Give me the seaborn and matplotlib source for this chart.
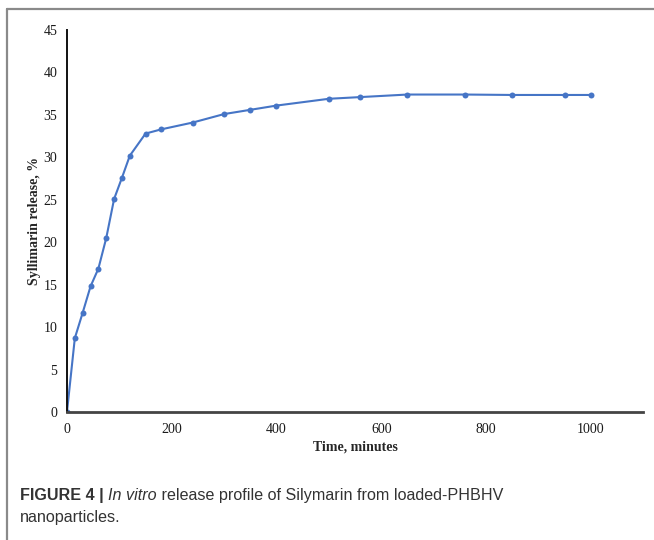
import matplotlib
matplotlib.use("Agg")
import matplotlib.pyplot as plt
import seaborn as sns
import pandas as pd
from matplotlib.lines import Line2D
from matplotlib import font_manager

# release data
time_min = [0, 15, 30, 45, 60, 75, 90, 105, 120, 150, 180, 240, 300, 350,
            400, 500, 560, 650, 760, 850, 950, 1000]
release_pct = [0, 8.7, 11.7, 14.8, 16.9, 20.5, 25.1, 27.6, 30.2, 32.8, 33.3,
               34.1, 35.1, 35.6, 36.1, 36.9, 37.1, 37.4, 37.4, 37.35, 37.35, 37.35]
x_ticks = [0, 200, 400, 600, 800, 1000]
y_ticks = [0, 5, 10, 15, 20, 25, 30, 35, 40, 45]

df = pd.DataFrame({"time": time_min, "release": release_pct})

sns.set_style("white")
plt.rcParams["font.family"] = ["Liberation Serif", "DejaVu Serif"]

names = {f.name for f in font_manager.fontManager.ttflist}
cap_font = "Liberation Sans Narrow" if "Liberation Sans Narrow" in names else "Liberation Sans"

fig = plt.figure(figsize=(6.54, 5.40), dpi=100)
ax = fig.add_axes([0.1024, 0.237, 0.881, 0.7074])

sns.lineplot(data=df, x="time", y="release", ax=ax, color="#4675C6",
             linewidth=1.5, marker="o", markersize=4.3, markeredgewidth=0)

ax.set_xlim(0, 1100)
ax.set_ylim(0, 45)
ax.set_xticks(x_ticks)
ax.set_yticks(y_ticks)
ax.tick_params(axis="both", length=0, labelsize=10, colors="#1a1a1a")
ax.tick_params(axis="y", pad=7)
ax.tick_params(axis="x", pad=8)

for side in ["top", "right"]:
    ax.spines[side].set_visible(False)
ax.spines["left"].set_color("#111111")
ax.spines["left"].set_linewidth(1.4)
ax.spines["bottom"].set_color("#444444")
ax.spines["bottom"].set_linewidth(2.0)

ax.set_xlabel("Time, minutes", fontsize=10, fontweight="bold", labelpad=3)
ax.set_ylabel("Syllimarin release, %", fontsize=10, fontweight="bold", labelpad=2)

# grey frame around the figure panel (top and left edges)
fig.add_artist(Line2D([7 / 654, 1.0], [1 - 9 / 540, 1 - 9 / 540],
                      transform=fig.transFigure, color="#8a8a8a", linewidth=1.6))
fig.add_artist(Line2D([7 / 654, 7 / 654], [0.0, 1 - 9 / 540],
                      transform=fig.transFigure, color="#8a8a8a", linewidth=1.6))

# caption, built piece by piece so the styles can change mid-line
cap_size = 11.6
cap_color = "#333333"
t1 = fig.text(20 / 654, 1 - 500 / 540, "FIGURE 4 | ", family=cap_font,
              fontweight="bold", fontsize=cap_size, color=cap_color, va="baseline")
t2 = ax.annotate("In vitro", xy=(1, 0), xycoords=t1, va="bottom", ha="left",
                 family=cap_font, style="italic", fontsize=cap_size,
                 color=cap_color, annotation_clip=False)
ax.annotate(" release profile of Silymarin from loaded-PHBHV", xy=(1, 0),
            xycoords=t2, va="bottom", ha="left", family=cap_font,
            fontsize=cap_size, color=cap_color, annotation_clip=False)
fig.text(20 / 654, 1 - 522 / 540, "nanoparticles.", family=cap_font,
         fontsize=cap_size, color=cap_color, va="baseline")

fig.savefig("out.png", dpi=100)
